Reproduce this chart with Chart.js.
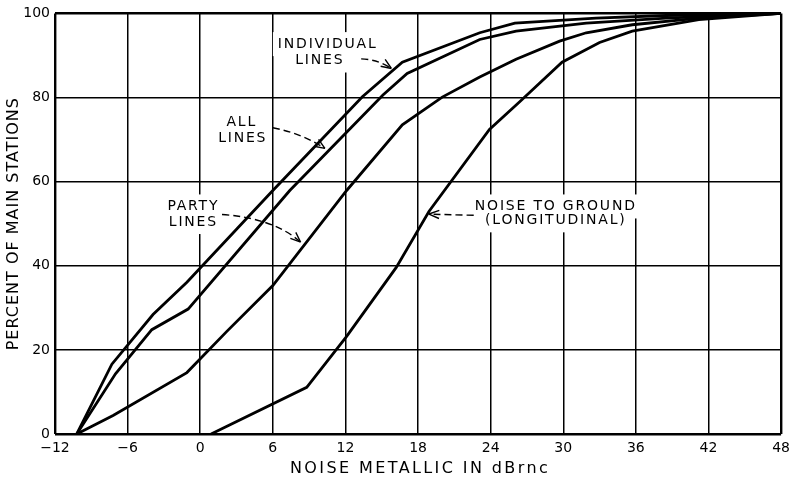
<!DOCTYPE html>
<html>
<head>
<meta charset="utf-8">
<script src="https://cdn.jsdelivr.net/npm/chart.js@4.4.1/dist/chart.umd.min.js"></script>
<style>
  body { margin: 0; background: #fff; }
  #wrap { width: 796px; height: 480px; }
</style>
</head>
<body>
<div id="wrap"><canvas id="noiseChart" width="796" height="480"></canvas></div>
<script>
// dBrnc ticks and percent ticks
const dbTicks = [-12, -6, 0, 6, 12, 18, 24, 30, 36, 42, 48];
const pctTicks = [0, 20, 40, 60, 80, 100];

// curves (x = dBrnc, y = percent of main stations)
const individualX = [-10.2, -7.3, -3.9, -1.1, 6, 13.4, 16.7, 23.1, 26, 32.7, 38.5, 48];
const individualY = [0, 16.6, 28.4, 36.1, 57.9, 80.2, 88.4, 95.4, 97.7, 98.9, 99.5, 100];

const allX = [-10.2, -7, -4, -1, 7.4, 15.1, 17.1, 23.1, 26.1, 31.9, 38.5, 48];
const allY = [0, 14.3, 24.8, 29.7, 57.9, 80.6, 85.7, 93.8, 95.8, 97.7, 98.9, 100];

const partyX = [-10.2, -7.2, -1.1, 2.2, 6, 12.1, 16.7, 20, 23.1, 26.1, 29.7, 31.9, 35.7, 41.2, 48];
const partyY = [0, 4.4, 14.6, 24.4, 35.3, 57.9, 73.5, 80.1, 84.9, 89.1, 93.4, 95.4, 97.3, 98.9, 100];

const groundX = [0.9, 8.8, 12.1, 16.2, 18.9, 23.9, 26.4, 29.9, 33, 35.7, 41.2, 48];
const groundY = [0, 11.1, 23.2, 39.6, 52.9, 72.4, 79, 88.4, 93.1, 95.8, 98.5, 100];

const xTitle = 'NOISE METALLIC IN dBrnc';
const yTitle = 'PERCENT OF MAIN STATIONS';

// callouts, in data units
const notes = [
    { lines: ['INDIVIDUAL', 'LINES'], at: [[10.45, 92.7], [9.8, 88.8]],
      arrow: [[13.3, 89.2], [14.7, 89.0], [15.8, 86.9]] },
    { lines: ['ALL', 'LINES'], at: [[3.35, 74.2], [3.43, 70.3]],
      arrow: [[6.0, 72.8], [8.4, 71.5], [10.3, 67.9]] },
    { lines: ['PARTY', 'LINES'], at: [[-0.65, 54.1], [-0.65, 50.4]],
      arrow: [[1.8, 52.2], [6.1, 51.3], [8.3, 45.6]] },
    { lines: ['NOISE TO GROUND', '(LONGITUDINAL)'], at: [[29.3, 54.1], [29.3, 50.8]],
      arrow: [[22.6, 52.0], [20.7, 52.1], [18.9, 52.3]] }
];

function pts(xs, ys) {
    return xs.map((x, i) => ({ x: x, y: ys[i] }));
}

function curve(label, xs, ys) {
    return {
        label: label,
        data: pts(xs, ys),
        borderColor: '#000',
        borderWidth: 2.8,
        pointRadius: 0,
        tension: 0,
        fill: false
    };
}

const FONT = '"DejaVu Sans", sans-serif';

const callouts = {
    id: 'callouts',
    beforeDatasetsDraw(chart) {
        // white out the grid behind the lettering
        const ctx = chart.ctx, xs = chart.scales.x, ys = chart.scales.y;
        ctx.save();
        ctx.font = '14px ' + FONT;
        ctx.letterSpacing = '1.8px';
        ctx.fillStyle = '#fff';
        notes.forEach(n => {
            n.lines.forEach((t, i) => {
                const w = ctx.measureText(t).width;
                const cx = xs.getPixelForValue(n.at[i][0]);
                const cy = ys.getPixelForValue(n.at[i][1]);
                ctx.fillRect(cx - w / 2 - 4, cy - 12, w + 8, 24);
            });
        });
        ctx.restore();
    },
    afterDatasetsDraw(chart) {
        const ctx = chart.ctx, xs = chart.scales.x, ys = chart.scales.y;
        const area = chart.chartArea;
        ctx.save();
        ctx.fillStyle = '#000';
        ctx.strokeStyle = '#000';
        ctx.font = '14px ' + FONT;
        ctx.letterSpacing = '1.8px';
        ctx.textAlign = 'center';
        ctx.textBaseline = 'middle';
        notes.forEach(n => {
            n.lines.forEach((t, i) => {
                ctx.fillText(t, xs.getPixelForValue(n.at[i][0]) + 1, ys.getPixelForValue(n.at[i][1]));
            });
            const p = n.arrow.map(a => [xs.getPixelForValue(a[0]), ys.getPixelForValue(a[1])]);
            ctx.lineWidth = 1.4;
            ctx.setLineDash([7, 4]);
            ctx.beginPath();
            ctx.moveTo(p[0][0], p[0][1]);
            ctx.quadraticCurveTo(p[1][0], p[1][1], p[2][0], p[2][1]);
            ctx.stroke();
            ctx.setLineDash([]);
            const ang = Math.atan2(p[2][1] - p[1][1], p[2][0] - p[1][0]);
            ctx.beginPath();
            [0.38, -0.38].forEach(d => {
                ctx.moveTo(p[2][0], p[2][1]);
                ctx.lineTo(p[2][0] - 11 * Math.cos(ang + d), p[2][1] - 11 * Math.sin(ang + d));
            });
            ctx.stroke();
        });

        // axis titles
        ctx.font = '16px ' + FONT;
        ctx.letterSpacing = '2.4px';
        ctx.fillText(xTitle, (area.left + area.right) / 2 + 2, 469);
        ctx.letterSpacing = '1px';
        ctx.translate(14, (area.top + area.bottom) / 2);
        ctx.rotate(-Math.PI / 2);
        ctx.fillText(yTitle, 0, 0);
        ctx.restore();
    }
};

new Chart(document.getElementById('noiseChart').getContext('2d'), {
    type: 'line',
    data: {
        datasets: [
            curve('Individual lines', individualX, individualY),
            curve('All lines', allX, allY),
            curve('Party lines', partyX, partyY),
            curve('Noise to ground (longitudinal)', groundX, groundY)
        ]
    },
    options: {
        responsive: false,
        animation: false,
        layout: { padding: { top: 7, right: 14, left: 0, bottom: 0 } },
        plugins: { legend: { display: false }, tooltip: { enabled: false } },
        scales: {
            x: {
                type: 'linear',
                min: dbTicks[0],
                max: dbTicks[dbTicks.length - 1],
                afterBuildTicks: s => { s.ticks = dbTicks.map(v => ({ value: v })); },
                afterFit: s => { s.height = 46; },
                border: { display: false },
                grid: { color: '#000', lineWidth: c => (c.tick && (c.tick.value === dbTicks[0] || c.tick.value === dbTicks[dbTicks.length - 1])) ? 2.4 : 1.5, drawTicks: false },
                ticks: {
                    color: '#000',
                    padding: 6,
                    maxRotation: 0,
                    font: { family: FONT, size: 14 },
                    callback: v => String(v).replace('-', '\u2212')
                }
            },
            y: {
                min: pctTicks[0],
                max: pctTicks[pctTicks.length - 1],
                afterBuildTicks: s => { s.ticks = pctTicks.map(v => ({ value: v })); },
                afterFit: s => { s.width = 55; },
                border: { display: false },
                grid: { color: '#000', lineWidth: c => (c.tick && (c.tick.value === pctTicks[0] || c.tick.value === pctTicks[pctTicks.length - 1])) ? 2.4 : 1.5, drawTicks: false },
                ticks: {
                    color: '#000',
                    padding: 5,
                    font: { family: FONT, size: 14 }
                }
            }
        }
    },
    plugins: [callouts]
});
</script>
</body>
</html>
